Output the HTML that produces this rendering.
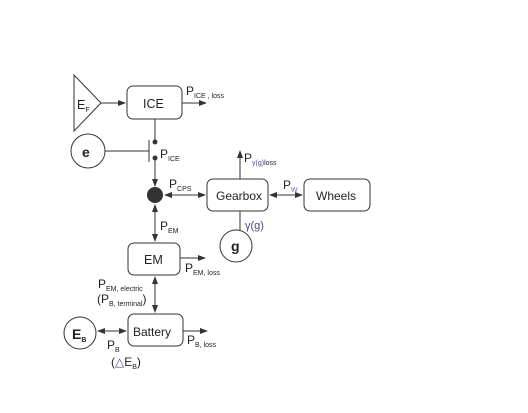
<!DOCTYPE html>
<html><head><style>body{margin:0;background:#fff}</style></head><body>
<svg width="528" height="408" xmlns="http://www.w3.org/2000/svg" font-family="Liberation Sans, sans-serif">
<defs>
<marker id="a" markerWidth="8" markerHeight="8" refX="7" refY="4" orient="auto-start-reverse" markerUnits="userSpaceOnUse"><path d="M0,1 L8,4 L0,7 z" fill="#333"/></marker>
</defs>
<g stroke="#333" stroke-width="1" fill="none">
<polygon points="74,75 74,131 101,103" fill="#fff"/>
<rect x="127" y="86" width="55" height="33" rx="6"/>
<rect x="207" y="179" width="61" height="32" rx="6"/>
<rect x="304" y="179" width="66" height="32" rx="6"/>
<rect x="128" y="243" width="52" height="32" rx="6"/>
<rect x="128" y="314" width="55" height="32" rx="6"/>
<circle cx="88" cy="151" r="17"/>
<circle cx="236" cy="246" r="16"/>
<circle cx="80" cy="333" r="16"/>
<line x1="101" y1="103" x2="125" y2="103" marker-end="url(#a)"/>
<line x1="182" y1="103" x2="206" y2="103" marker-end="url(#a)"/>
<line x1="155" y1="119" x2="155" y2="142"/>
<line x1="105" y1="151" x2="149" y2="151"/>
<line x1="149" y1="140" x2="149" y2="162"/>
<line x1="155" y1="158" x2="155" y2="186" marker-end="url(#a)"/>
<line x1="165" y1="195" x2="205" y2="195" marker-start="url(#a)" marker-end="url(#a)"/>
<line x1="155" y1="205" x2="155" y2="241" marker-start="url(#a)" marker-end="url(#a)"/>
<line x1="240" y1="179" x2="240" y2="151" marker-end="url(#a)"/>
<line x1="240" y1="211" x2="240" y2="230"/>
<line x1="270" y1="195" x2="302" y2="195" marker-start="url(#a)" marker-end="url(#a)"/>
<line x1="180" y1="258" x2="205" y2="258" marker-end="url(#a)"/>
<line x1="155" y1="277" x2="155" y2="312" marker-start="url(#a)" marker-end="url(#a)"/>
<line x1="98" y1="331" x2="126" y2="331" marker-start="url(#a)" marker-end="url(#a)"/>
<line x1="183" y1="331" x2="207" y2="331" marker-end="url(#a)"/>
</g>
<circle cx="155" cy="142" r="2.5" fill="#333"/>
<circle cx="155" cy="158" r="2.5" fill="#333"/>
<circle cx="155" cy="195" r="8" fill="#333"/>
<g fill="#222" font-size="12.5">
<text x="77" y="109">E<tspan font-size="7" dy="3">F</tspan></text>
<text x="143" y="108">ICE</text>
<text x="216" y="200" font-size="12">Gearbox</text>
<text x="316" y="200" font-size="12">Wheels</text>
<text x="144" y="264">EM</text>
<text x="133" y="336" font-size="12">Battery</text>
<text x="82" y="157" font-weight="bold" font-size="14">e</text>
<text x="231" y="251" font-weight="bold" font-size="14">g</text>
<text x="72" y="339" font-weight="bold" font-size="14">E<tspan font-size="7" dy="3">B</tspan></text>
<text x="186" y="95" font-size="12">P<tspan font-size="7" dy="3">ICE , loss</tspan></text>
<text x="160" y="158" font-size="12">P<tspan font-size="7" dy="3">ICE</tspan></text>
<text x="169" y="188" font-size="12">P<tspan font-size="7" dy="3">CPS</tspan></text>
<text x="160" y="230" font-size="12">P<tspan font-size="7" dy="3">EM</tspan></text>
<text x="244" y="162" font-size="12">P<tspan font-size="7" dy="3" fill="#548">γ(g)</tspan><tspan font-size="7">loss</tspan></text>
<text x="283" y="189" font-size="12">P<tspan font-size="7" dy="3" fill="#66a">W</tspan></text>
<text x="245" y="229" font-size="11" fill="#548">γ(g)</text>
<text x="185" y="272" font-size="12">P<tspan font-size="7" dy="3">EM, loss</tspan></text>
<text x="98" y="288" font-size="12">P<tspan font-size="7" dy="3">EM, electric</tspan></text>
<text x="97" y="303" font-size="12">(P<tspan font-size="7" dy="3">B, terminal</tspan><tspan dy="-3">)</tspan></text>
<text x="107" y="349" font-size="12">P<tspan font-size="7" dy="3">B</tspan></text>
<text x="111" y="366" font-size="12">(<tspan fill="#548">△</tspan>E<tspan font-size="7" dy="3">B</tspan><tspan dy="-3">)</tspan></text>
<text x="187" y="344" font-size="12">P<tspan font-size="7" dy="3">B, loss</tspan></text>
</g>
</svg>
</body></html>
